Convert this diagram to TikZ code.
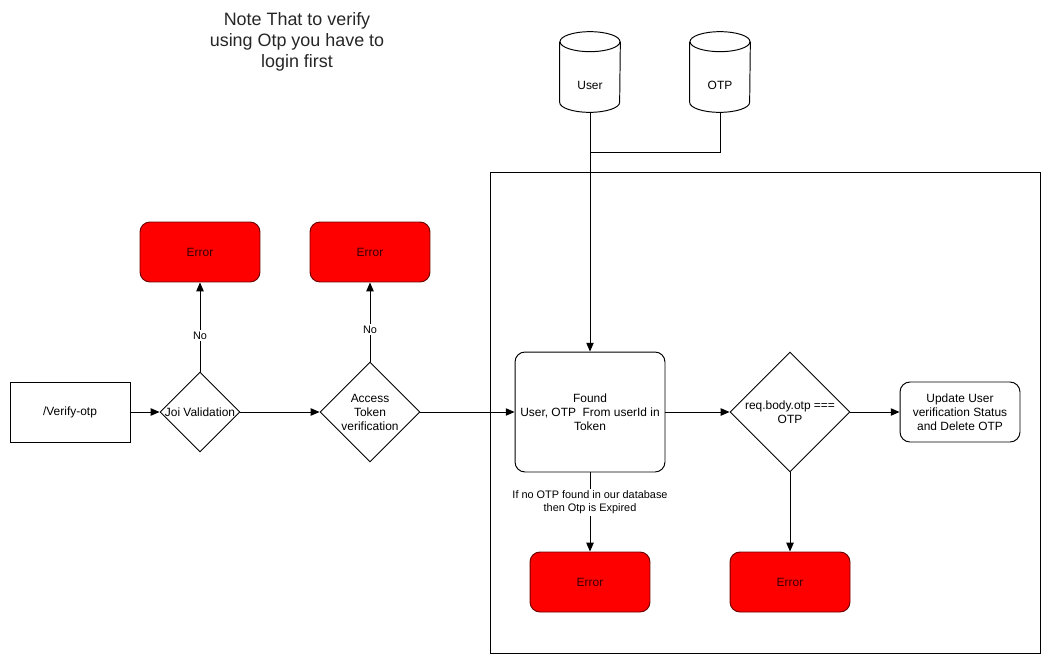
\documentclass[tikz,border=0pt]{standalone}
\usepackage{fontspec}
\setmainfont{Liberation Sans}
\usetikzlibrary{shapes.geometric,arrows.meta,calc}
\definecolor{errfill}{HTML}{FF0000}
\definecolor{errline}{HTML}{6F0000}
\begin{document}
\begin{tikzpicture}[x=0.02cm,y=-0.02cm,
  base/.style={draw=black,line width=0.55pt,font=\fontsize{6.8}{8}\selectfont,align=center,inner sep=1pt},
  box/.style={base,rectangle,minimum width=2.4cm,minimum height=1.2cm},
  rbox/.style={box,rounded corners=0.2cm},
  errbox/.style={rbox,fill=errfill,draw=errline,text=black!80!red},
  dia/.style={base,diamond,aspect=1},
  db/.style={rectangle,inner sep=0pt,minimum width=1.2cm,minimum height=1.6cm},
  dbtext/.style={font=\fontsize{6.8}{8}\selectfont,inner sep=1pt},
  conn/.style={line width=0.55pt,-{Triangle[length=5pt,width=4.2pt]}},
  line/.style={line width=0.55pt},
  lbl/.style={fill=white,font=\fontsize{6.2}{7.5}\selectfont,inner sep=1pt,align=center}
]
\useasboundingbox (0,0) rectangle (1051,663);
% container
\draw[line] (490,172) rectangle (1040,653);
% note
\node[font=\fontsize{10.2}{12}\selectfont,align=center,text=black!85] (note) at (297,42) {Note That to verify\\using Otp you have to\\login first};
% nodes
\node[box] (start) at (70,412) {/Verify-otp};
\node[dia,minimum width=1.6cm,minimum height=1.6cm,inner sep=0pt] (joi) at (200,412) {Joi Validation};
\node[dia,minimum width=2cm,minimum height=2cm,inner sep=0pt] (acc) at (370,412) {Access\\Token\\verification};
\node[errbox] (err1) at (200,252) {Error};
\node[errbox] (err2) at (370,252) {Error};
\node[rbox,minimum width=3cm,minimum height=2.4cm] (found) at (590,412) {Found\\User, OTP\ \ From userId in\\Token};
\node[dia,minimum width=2.4cm,minimum height=2.4cm,inner sep=0pt] (req) at (790,412) {req.body.otp ===\\OTP};
\node[rbox] (upd) at (960,412) {Update User\\verification Status\\and Delete OTP};
\node[errbox] (err3) at (590,582) {Error};
\node[errbox] (err4) at (790,582) {Error};
% databases
\node[db] (user) at (590,72) {};
\node[db] (otp) at (720,72) {};
\foreach \n in {user,otp}{
  \draw[line] ($(\n.north west)+(0,10)$) -- ($(\n.south west)+(0,-10)$)
     arc[start angle=180,end angle=360,x radius=0.6cm,y radius=0.2cm]
     -- ($(\n.north east)+(0,10)$);
  \draw[line] ($(\n.north)+(0,10)$) ellipse[x radius=0.6cm,y radius=0.2cm];
}
\node[dbtext] (usertext) at (590,85) {User};
\node[dbtext] (otptext) at (720,85) {OTP};
\coordinate (jn) at (590,152);
% connectors
\draw[conn] (start) -- (joi);
\draw[conn] (joi) -- (acc);
\draw[conn] (acc) -- (found);
\draw[conn] (found) -- (req);
\draw[conn] (req) -- (upd);
\draw[conn] (joi) -- node[lbl,pos=0.4] (no1) {No} (err1);
\draw[conn] (acc) -- node[lbl,pos=0.4] (no2) {No} (err2);
\draw[conn] (found) -- node[lbl,pos=0.375] (exp) {If no OTP found in our database\\then Otp is Expired} (err3);
\draw[conn] (req) -- (err4);
\draw[conn] (user.south) -- (found.north);
\draw[line] (otp.south) |- (jn);
\end{tikzpicture}
\end{document}
